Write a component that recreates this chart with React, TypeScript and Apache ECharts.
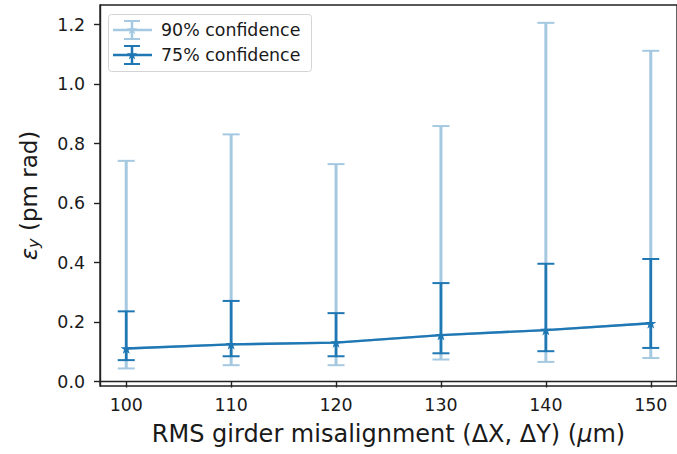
import React, { useEffect, useRef } from "react";
import * as echarts from "echarts";

const xValues = [100, 110, 120, 130, 140, 150];
const centerValues = [0.111, 0.125, 0.131, 0.156, 0.173, 0.196];
const lower90 = [0.044, 0.055, 0.055, 0.074, 0.066, 0.079];
const upper90 = [0.742, 0.831, 0.731, 0.859, 1.206, 1.112];
const lower75 = [0.072, 0.085, 0.085, 0.095, 0.102, 0.113];
const upper75 = [0.236, 0.271, 0.230, 0.331, 0.396, 0.412];
const yTicks = [0, 0.2, 0.4, 0.6, 0.8, 1.0, 1.2];
const xTicks = [100, 110, 120, 130, 140, 150];
const seriesNames = ["90% confidence", "75% confidence"];

const BLUE = "#1f77b4";
const LIGHT = "#a5c9e1";
const FONT = "DejaVu Sans";
const TXT = "#1a1a1a";
const STAR_D =
  "M50,0 L61.2,34.5 L97.6,34.5 L68.2,55.9 L79.4,90.5 L50,69.1 L20.6,90.5 L31.8,55.9 L2.4,34.5 L38.8,34.5 Z";

let registered = false;
function ensureStar() {
  if (registered) return;
  echarts.graphic.registerShape("star5", echarts.graphic.extendPath(STAR_D, {}) as any);
  registered = true;
}

function errorBarSeries(lo: number[], hi: number[], color: string, width: number, z: number) {
  return {
    type: "custom",
    z,
    silent: true,
    encode: { x: 0, y: [1, 2] },
    data: xValues.map((x, i) => [x, lo[i], hi[i]]),
    renderItem: (params: any, api: any) => {
      const x = api.value(0);
      const pLo = api.coord([x, api.value(1)]);
      const pHi = api.coord([x, api.value(2)]);
      const cw = 8.5;
      const style = { stroke: color, lineWidth: width };
      const capStyle = { stroke: color, lineWidth: 2 };
      return {
        type: "group",
        children: [
          { type: "line", shape: { x1: pLo[0], y1: pLo[1], x2: pHi[0], y2: pHi[1] }, style },
          { type: "line", shape: { x1: pLo[0] - cw, y1: pLo[1], x2: pLo[0] + cw, y2: pLo[1] }, style: capStyle },
          { type: "line", shape: { x1: pHi[0] - cw, y1: pHi[1], x2: pHi[0] + cw, y2: pHi[1] }, style: capStyle },
        ],
      };
    },
  };
}

function lineSeries(name: string, color: string, z: number) {
  return {
    type: "line",
    name,
    z,
    data: xValues.map((x, i) => [x, centerValues[i]]),
    lineStyle: { color, width: 2.4 },
    itemStyle: { color },
    symbol: "path://" + STAR_D,
    symbolKeepAspect: true,
    symbolSize: 11,
    showSymbol: true,
    silent: true,
  };
}

function legendEntry(y: number, color: string, label: string) {
  const cx = 132;
  return [
    { type: "line", z: 12, shape: { x1: 113, y1: y, x2: 152, y2: y }, style: { stroke: color, lineWidth: 2.4 } },
    { type: "line", z: 12, shape: { x1: cx, y1: y - 9, x2: cx, y2: y + 9 }, style: { stroke: color, lineWidth: 2.5 } },
    { type: "line", z: 12, shape: { x1: cx - 8, y1: y - 9, x2: cx + 8, y2: y - 9 }, style: { stroke: color, lineWidth: 2 } },
    { type: "line", z: 12, shape: { x1: cx - 8, y1: y + 9, x2: cx + 8, y2: y + 9 }, style: { stroke: color, lineWidth: 2 } },
    { type: "star5", z: 13, x: cx - 5.5, y: y - 5.5, scaleX: 0.11, scaleY: 0.11, style: { fill: color } },
    {
      type: "text",
      z: 13,
      x: 161,
      y,
      style: { text: label, font: `17.4px '${FONT}'`, fill: TXT, verticalAlign: "middle", align: "left" },
    },
  ];
}

export default function App() {
  const ref = useRef<HTMLDivElement>(null);
  useEffect(() => {
    if (!ref.current) return;
    ensureStar();
    const chart = echarts.init(ref.current, undefined, { renderer: "svg" });
    chart.setOption({
      animation: false,
      backgroundColor: "#ffffff",
      textStyle: { fontFamily: FONT },
      grid: {
        left: 100,
        top: 5,
        width: 583,
        height: 381,
        show: true,
        borderColor: "#222",
        borderWidth: 1.4,
        backgroundColor: "transparent",
      },
      xAxis: {
        type: "value",
        min: 97.5,
        max: 152.5,
        splitLine: { show: false },
        axisLine: { show: true, lineStyle: { color: "#222", width: 1.4 } },
        axisTick: { show: true, customValues: xTicks, length: 6, lineStyle: { color: "#222", width: 1.4 } },
        axisLabel: {
          customValues: xTicks,
          fontSize: 17.4,
          color: TXT,
          margin: 10,
          fontFamily: FONT,
        },
        name: "{n|RMS girder misalignment (ΔX, ΔY) (}{i|μ}{n|m)}",
        nameLocation: "middle",
        nameGap: 36,
        nameTextStyle: {
          rich: {
            n: { fontSize: 24, color: TXT, fontFamily: FONT },
            i: { fontSize: 24, color: TXT, fontFamily: FONT, fontStyle: "italic" },
          },
        },
      },
      yAxis: {
        type: "value",
        min: -0.015,
        max: 1.266,
        splitLine: { show: false },
        axisLine: { show: true, lineStyle: { color: "#222", width: 1.4 } },
        axisTick: { show: true, customValues: yTicks, length: 6, lineStyle: { color: "#222", width: 1.4 } },
        axisLabel: {
          customValues: yTicks,
          fontSize: 17.4,
          color: TXT,
          margin: 15,
          fontFamily: FONT,
          formatter: (v: number) => v.toFixed(1),
        },
        name: "{i|ε}{s|y}{n| (pm rad)}",
        nameLocation: "middle",
        nameRotate: 90,
        nameGap: 59,
        nameTextStyle: {
          rich: {
            n: { fontSize: 23, color: TXT, fontFamily: FONT },
            i: { fontSize: 23, color: TXT, fontFamily: FONT, fontStyle: "italic" },
            s: { fontSize: 16, color: TXT, fontFamily: FONT, fontStyle: "italic", verticalAlign: "bottom", padding: [8, 0, 0, 0] },
          },
        },
      },
      series: [
        errorBarSeries(lower90, upper90, LIGHT, 3, 1),
        lineSeries(seriesNames[0], LIGHT, 2),
        errorBarSeries(lower75, upper75, BLUE, 2.6, 3),
        lineSeries(seriesNames[1], BLUE, 4),
      ],
      graphic: [
        {
          type: "group",
          z: 10,
          children: [
            {
              type: "rect",
              z: 10,
              shape: { x: 108.5, y: 14.5, width: 203, height: 57, r: 3 },
              style: { fill: "rgba(255,255,255,0.8)", stroke: "#d4d4d4", lineWidth: 1 },
            },
            ...legendEntry(30, LIGHT, seriesNames[0]),
            ...legendEntry(55, BLUE, seriesNames[1]),
          ],
        },
      ],
    });
    return () => chart.dispose();
  }, []);
  return (
    <div
      ref={ref}
      style={{ position: "fixed", left: 0, top: 0, width: 677, height: 454 }}
    />
  );
}
